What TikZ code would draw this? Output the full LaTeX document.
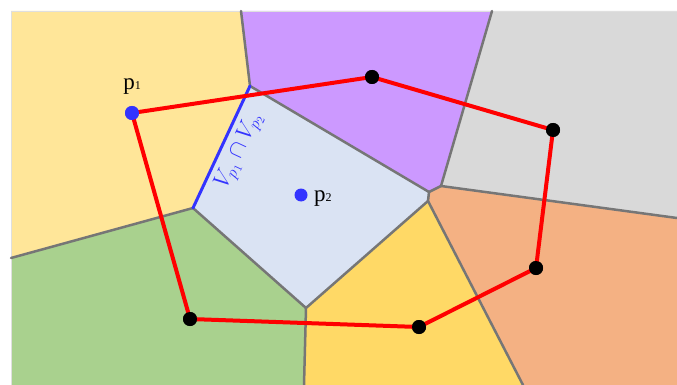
\RequirePackage{fix-cm}
\documentclass[tikz,border=0pt]{standalone}
\usepackage{fontspec}
\setmainfont{Liberation Serif}
\definecolor{cYel}{HTML}{FFE699}
\definecolor{cPur}{HTML}{CC99FF}
\definecolor{cGry}{HTML}{D9D9D9}
\definecolor{cOra}{HTML}{F4B183}
\definecolor{cGld}{HTML}{FFD966}
\definecolor{cGrn}{HTML}{A9D18E}
\definecolor{cLbl}{HTML}{DAE3F3}
\definecolor{cEdge}{HTML}{767676}
\definecolor{cBlu}{HTML}{3333FF}
\definecolor{cRed}{HTML}{FF0000}
\tikzset{
  celledge/.style={draw=cEdge, line width=2.5pt, line cap=round, line join=round},
  sharededge/.style={draw=cBlu, line width=3pt, line cap=round},
  tour/.style={draw=cRed, line width=4pt, line join=round},
  blackdot/.style={circle, fill=black, minimum size=14pt, inner sep=0pt},
  sitedot/.style={circle, fill=cBlu, minimum size=14pt, inner sep=0pt},
  sitelabel/.style={inner sep=0pt, font=\fontsize{23}{23}\selectfont},
}
\newcommand{\subdig}[1]{{\fontsize{12}{12}\selectfont #1}}
\begin{document}
\begin{tikzpicture}[x=1pt,y=-1pt]
\useasboundingbox (0,0) rectangle (677,385);
% frame coordinates
\coordinate (TL) at (11,11);
\coordinate (T1) at (241,11);
\coordinate (T2) at (492,11);
\coordinate (TR) at (677,11);
\coordinate (R1) at (677,218);
\coordinate (BR) at (677,385);
\coordinate (B3) at (523,385);
\coordinate (B2) at (304,385);
\coordinate (BL) at (11,385);
\coordinate (L1) at (11,258);
% Voronoi vertices
\coordinate (A) at (250,86);
\coordinate (B) at (193,208);
\coordinate (C) at (429,192);
\coordinate (D) at (441,186);
\coordinate (G) at (428,201);
\coordinate (H) at (306,308);
% cells
\fill[cYel] (TL) -- (T1) -- (A) -- (B) -- (L1) -- cycle;
\fill[cPur] (T1) -- (T2) -- (D) -- (C) -- (A) -- cycle;
\fill[cGry] (T2) -- (TR) -- (R1) -- (D) -- cycle;
\fill[cOra] (D) -- (R1) -- (BR) -- (B3) -- (G) -- (C) -- cycle;
\fill[cGld] (G) -- (B3) -- (B2) -- (H) -- cycle;
\fill[cGrn] (L1) -- (B) -- (H) -- (B2) -- (BL) -- cycle;
\fill[cLbl] (A) -- (C) -- (G) -- (H) -- (B) -- cycle;
\draw[gray!25, line width=0.6pt] (BL) -- (TL) -- (TR);
% cell edges
\draw[celledge] (T1) -- (A);
\draw[celledge] (A) -- (C) -- (D) -- (T2);
\draw[celledge] (D) -- (R1);
\draw[celledge] (C) -- (G) -- (B3);
\draw[celledge] (G) -- (H) -- (B2);
\draw[celledge] (H) -- (B) -- (L1);
\draw[sharededge] (B) -- node[pos=0.53, sloped, below, inner sep=5pt, text=cBlu, font=\fontsize{23}{23}\selectfont] (cap) {$V_{p_1}\cap V_{p_2}$} (A);
% tour
\node[sitedot] (p1) at (132,113) {};
\node[blackdot] (k1) at (372,77) {};
\node[blackdot] (k2) at (553,130) {};
\node[blackdot] (k3) at (536,268) {};
\node[blackdot] (k4) at (419,327) {};
\node[blackdot] (k5) at (190,319) {};
\draw[tour] (p1.center) -- (k1.center) -- (k2.center) -- (k3.center) -- (k4.center) -- (k5.center) -- cycle;
\node[sitedot] at (p1) {};
\foreach \k in {k1,k2,k3,k4,k5} {\node[blackdot] at (\k) {};}
\node[sitedot, minimum size=13pt] (p2) at (301,195) {};
\node[sitelabel, anchor=base] (l1) at ([yshift=23pt]p1.center) {p\subdig{1}};
\node[sitelabel, anchor=base west] (l2) at ([xshift=13pt, yshift=-6pt]p2.center) {p\subdig{2}};
\end{tikzpicture}
\end{document}
